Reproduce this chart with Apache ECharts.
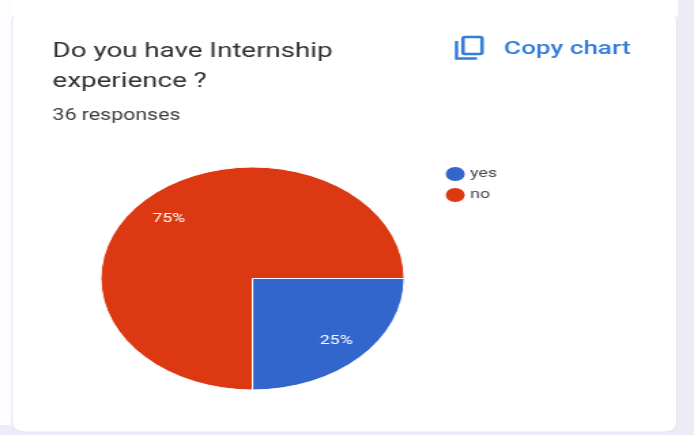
<!DOCTYPE html>
<html><head><meta charset="utf-8">
<style>html,body{margin:0;padding:0;background:#fff;overflow:hidden;width:694px;height:435px}
#c{width:510px;height:435px;transform:scaleX(1.3608);transform-origin:0 0;filter:blur(.4px)}</style>
<script src="https://cdn.jsdelivr.net/npm/echarts@6/dist/echarts.min.js"></script></head>
<body><div id="c"></div>
<script>
const categories = ['yes', 'no'];
const values = [9, 27];
const colors = ['#3366cc', '#dc3912'];
const titleText = 'Do you have Internship\nexperience ?';
const subtitleText = '36 responses';
const copyText = 'Copy chart';
const K = 1.3608, X = v => v / K;
const font = 'Roboto, sans-serif';
const chart = echarts.init(document.getElementById('c'));
const blue = '#347dd8';
chart.setOption({
  animation: false,
  backgroundColor: '#ffffff',
  title: [
    {text: titleText, left: X(52.5), top: 36.5, padding: 0, textStyle: {fontFamily: font, fontSize: 20.4, fontWeight: 400, color: '#303134', lineHeight: 30}},
    {text: subtitleText, left: X(52.5), top: 108, padding: 0, textStyle: {fontFamily: font, fontSize: 15.7, fontWeight: 400, color: '#3c3d40'}},
    {text: copyText, left: X(504), top: 40, padding: 0, textStyle: {fontFamily: font, fontSize: 19.2, fontWeight: 500, color: blue}}
  ],
  legend: {
    orient: 'vertical', left: X(443), top: 165, padding: 0, icon: 'circle', itemWidth: 16, itemHeight: 16, itemGap: 3,
    data: categories, selectedMode: false,
    textStyle: {fontFamily: font, fontSize: 13, color: '#46474a', padding: [0, 0, 0, -2]}
  },
  graphic: [
    {type: 'rect', z: -10, silent: true, shape: {x: X(678), y: 0, width: 30, height: 435}, style: {fill: '#ecebf8'}},
    {type: 'rect', z: -10, silent: true, shape: {x: 0, y: 425, width: 510, height: 10}, style: {fill: '#ecebf8'}},
    {type: 'rect', z: -9, silent: true, shape: {x: 0, y: 0, width: X(12), height: 425}, style: {fill: '#fdfdff'}},
    {type: 'rect', z: -8, silent: true, shape: {x: X(12), y: 12, width: X(665), height: 420, r: 9}, style: {fill: '#fff', stroke: '#e4e3f0', lineWidth: 1}},
    {type: 'rect', z: -7, silent: true, shape: {x: X(14), y: 0, width: X(661), height: 30}, style: {fill: '#fff'}},
    {type: 'rect', silent: true, shape: {x: X(463), y: 37, width: X(19), height: 17, r: 1.5}, style: {fill: 'none', stroke: blue, lineWidth: 2.6}},
    {type: 'polyline', silent: true, shape: {points: [[X(456.5), 41], [X(456.5), 58.5], [X(477), 58.5]]}, style: {fill: 'none', stroke: blue, lineWidth: 2.4}}
  ],
  series: [{
    type: 'pie',
    center: [X(252.5), 278.5],
    radius: [0, 111.5],
    startAngle: 0,
    clockwise: true,
    itemStyle: {borderColor: '#fff', borderWidth: 1},
    label: {position: 'inside', formatter: '{d}%', fontFamily: font, fontSize: 13, color: '#fff'},
    labelLine: {show: false},
    labelLayout: p => p.dataIndex === 0 ? {dx: 20, dy: 21} : {dx: -20, dy: -18},
    emphasis: {disabled: true},
    data: categories.map((name, i) => ({name, value: values[i], itemStyle: {color: colors[i]}}))
  }]
});
</script></body></html>
